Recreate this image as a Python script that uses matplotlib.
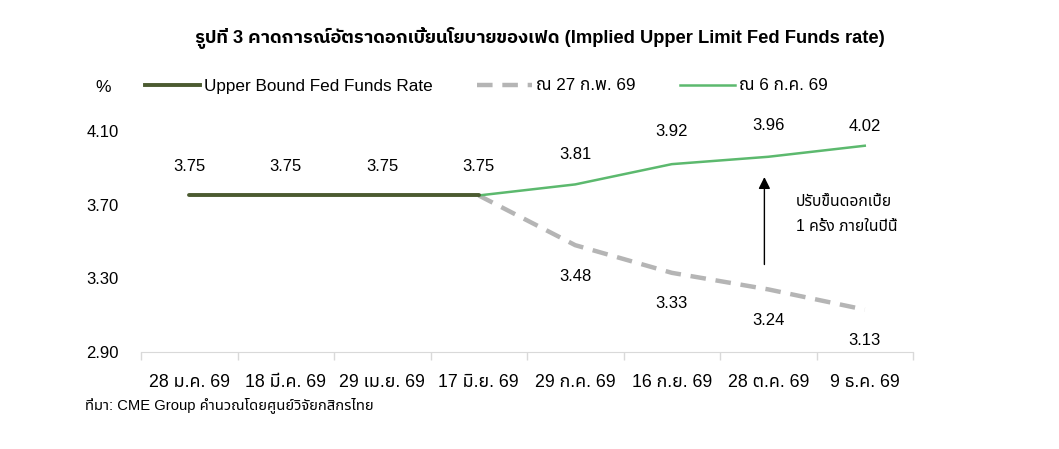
import matplotlib
matplotlib.use("Agg")
import matplotlib.pyplot as plt
from matplotlib.lines import Line2D
import numpy as np

plt.rcParams['font.family'] = ['Liberation Sans', 'Noto Sans Thai']

# Data
dates = ['28 ม.ค. 69', '18 มี.ค. 69', '29 เม.ย. 69', '17 มิ.ย. 69',
         '29 ก.ค. 69', '16 ก.ย. 69', '28 ต.ค. 69', '9 ธ.ค. 69']
upper_bound = [3.75, 3.75, 3.75, 3.75]
feb27 = [3.75, 3.48, 3.33, 3.24, 3.13]     # from 17 Jun onward
jul6 = [3.75, 3.81, 3.92, 3.96, 4.02]      # from 17 Jun onward
yticks = [2.90, 3.30, 3.70, 4.10]

# annotation arrow (x in category units, y in %)
arrow_x = 5.96
arrow_from, arrow_to = 3.36, 3.865
note = 'ปรับขึ้นดอกเบี้ย\n1 ครั้ง ภายในปีนี้'

c_dark = '#4b5b30'
c_green = '#5cb96e'
c_gray = '#b5b5b5'

fig = plt.figure(figsize=(10.59, 4.49), dpi=100)
ax = fig.add_axes([141 / 1059, 97 / 449, 772 / 1059, 221 / 449])

x_ub = np.arange(len(upper_bound))
x_fc = np.arange(3, 3 + len(jul6))

ax.plot(x_fc, feb27, color=c_gray, lw=3.2, ls=(0, (3.5, 2.2)), solid_capstyle='butt')
ax.plot(x_fc, jul6, color=c_green, lw=1.8)
ax.plot(x_ub, upper_bound, color=c_dark, lw=2.8, solid_capstyle='round')

# value labels
for x, v in zip(x_ub, upper_bound):
    ax.annotate(f'{v:.2f}', (x, v), xytext=(0, 29), textcoords='offset pixels',
                ha='center', va='center', fontsize=12)
green_off = [30, 33, 31, 19]
for x, v, o in zip(x_fc[1:], jul6[1:], green_off):
    ax.annotate(f'{v:.2f}', (x, v), xytext=(0, o), textcoords='offset pixels',
                ha='center', va='center', fontsize=12)
for x, v in zip(x_fc[1:], feb27[1:]):
    ax.annotate(f'{v:.2f}', (x, v), xytext=(0, -31), textcoords='offset pixels',
                ha='center', va='center', fontsize=12)

ax.annotate('', xy=(arrow_x, arrow_to), xytext=(arrow_x, arrow_from),
            arrowprops=dict(arrowstyle='-|>,head_length=0.7,head_width=0.35',
                            color='black', lw=1))
ax.text(6.29, 3.65, note, ha='left', va='center', fontsize=11.3, linespacing=1.8)

ax.set_xlim(-0.5, 7.5)
ax.set_ylim(2.90, 4.10)
ax.set_yticks(yticks)
ax.set_yticklabels([f'{t:.2f}' for t in yticks])
ax.set_xticks(np.arange(len(dates)))
ax.set_xticklabels(dates, fontsize=12.8)
ax.set_xticks(np.arange(-0.5, len(dates)), minor=True)
ax.tick_params(axis='x', which='major', length=0, pad=16)
ax.tick_params(axis='x', which='minor', length=6, color='#d9d9d9', width=1)
ax.tick_params(axis='y', length=0, pad=16, labelsize=12)
for s in ['top', 'right', 'left']:
    ax.spines[s].set_visible(False)
ax.spines['bottom'].set_color('#d9d9d9')

fig.text(540 / 1059, 1 - 38 / 449,
         'รูปที่ 3 คาดการณ์อัตราดอกเบี้ยนโยบายของเฟด (Implied Upper Limit Fed Funds rate)',
         ha='center', va='center', fontsize=13.2, fontweight='bold',
         family=['Liberation Sans', 'IBM Plex Sans Thai'])
fig.text(103 / 1059, 1 - 87 / 449, '%', ha='center', va='center', fontsize=12.5)

handles = [Line2D([], [], color=c_dark, lw=2.8),
           Line2D([], [], color=c_gray, lw=3.2, ls=(0, (3.5, 2.2))),
           Line2D([], [], color=c_green, lw=1.8)]
labels = ['Upper Bound Fed Funds Rate', 'ณ 27 ก.พ. 69', 'ณ 6 ก.ค. 69']
fig.legend(handles, labels, loc='center left', bbox_to_anchor=(145 / 1059, 1 - 86 / 449),
           ncol=3, frameon=False, fontsize=12.3, handlelength=3.2, handletextpad=0.25,
           columnspacing=2.6, borderpad=0, borderaxespad=0)

fig.text(85 / 1059, 1 - 405 / 449, 'ที่มา: CME Group คำนวณโดยศูนย์วิจัยกสิกรไทย',
         ha='left', va='center', fontsize=10.6)

fig.savefig('out.png', dpi=100, facecolor='white')
